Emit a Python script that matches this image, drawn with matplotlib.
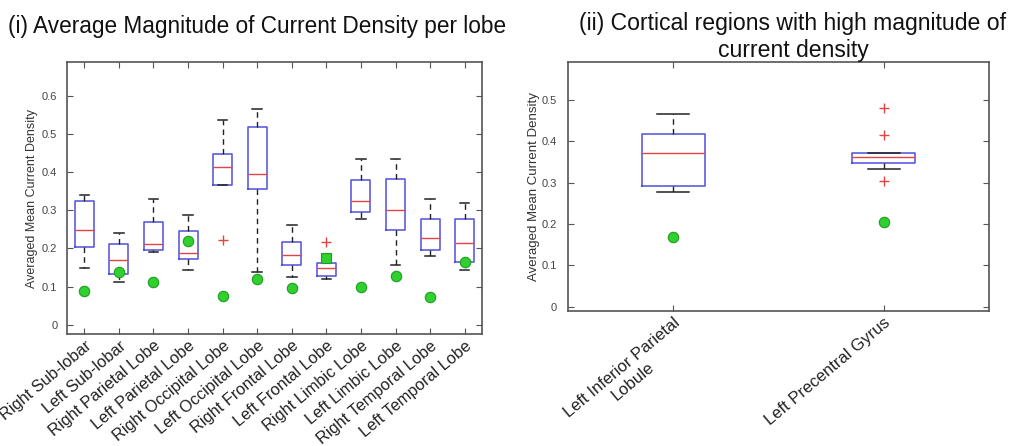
import matplotlib
matplotlib.use("Agg")
import matplotlib.pyplot as plt

plt.rcParams['font.family'] = ['Liberation Sans', 'DejaVu Sans']

# ---------------- data: panel (i) ----------------
lobes = ["Right Sub-lobar", "Left Sub-lobar", "Right Parietal Lobe", "Left Parietal Lobe",
         "Right Occipital Lobe", "Left Occipital Lobe", "Right Frontal Lobe", "Left Frontal Lobe",
         "Right Limbic Lobe", "Left Limbic Lobe", "Right Temporal Lobe", "Left Temporal Lobe"]
lobe_whislo = [0.150, 0.113, 0.191, 0.143, 0.367, 0.138, 0.125, 0.119, 0.277, 0.157, 0.180, 0.143]
lobe_q1     = [0.203, 0.134, 0.195, 0.173, 0.367, 0.355, 0.157, 0.128, 0.296, 0.247, 0.197, 0.165]
lobe_med    = [0.247, 0.169, 0.212, 0.187, 0.413, 0.396, 0.184, 0.150, 0.325, 0.300, 0.228, 0.215]
lobe_q3     = [0.325, 0.212, 0.270, 0.245, 0.448, 0.517, 0.217, 0.163, 0.378, 0.383, 0.277, 0.277]
lobe_whishi = [0.341, 0.241, 0.330, 0.287, 0.537, 0.565, 0.261, 0.175, 0.434, 0.434, 0.330, 0.319]
lobe_fliers = [[], [], [], [], [0.222], [], [], [0.217], [], [], [], []]
lobe_green  = [0.089, 0.137, 0.113, 0.219, 0.076, 0.119, 0.097, 0.174, 0.099, 0.128, 0.074, 0.165]

# ---------------- data: panel (ii) ----------------
regions = ["Left Inferior Parietal\nLobule", "Left Precentral Gyrus"]
reg_whislo = [0.277, 0.332]
reg_q1     = [0.293, 0.347]
reg_med    = [0.371, 0.361]
reg_q3     = [0.418, 0.371]
reg_whishi = [0.466, 0.371]
reg_fliers = [[], [0.481, 0.415, 0.305]]
reg_green  = [0.169, 0.206]

# ---------------- styles ----------------
BOX_C = '#4f4fdc'
MED_C = '#e04444'
WHISK_C = '#222222'
GREEN_F = '#2fd02f'
GREEN_E = '#1e9e1e'
SPINE_C = '#555555'
TICK_C = '#444444'
square_idx = 7  # green marker drawn as square in the reference

fig = plt.figure(figsize=(10.16, 4.46), dpi=100)
W, H = 1016, 446


def add_ax(x0, x1, y0, y1):
    return fig.add_axes([x0 / W, 1 - y1 / H, (x1 - x0) / W, (y1 - y0) / H])


def draw(ax, labels, lo, q1, med, q3, hi, fl, green, width, tick_fs, ylab_fs, xfs, ypad):
    stats = []
    for i in range(len(labels)):
        stats.append(dict(med=med[i], q1=q1[i], q3=q3[i], whislo=lo[i], whishi=hi[i],
                          fliers=fl[i], label=labels[i]))
    pos = list(range(1, len(labels) + 1))
    ax.bxp(stats, positions=pos, widths=width, showfliers=True,
           boxprops=dict(color=BOX_C, lw=1.1),
           medianprops=dict(color=MED_C, lw=1.0),
           whiskerprops=dict(color=WHISK_C, lw=1.0, linestyle=(0, (4, 3))),
           capprops=dict(color=WHISK_C, lw=1.1),
           flierprops=dict(marker='+', markeredgecolor=MED_C, markersize=7, mew=1.0))
    ax.set_xlim(0.5, len(labels) + 0.5)
    ax.set_xticks(pos)
    ax.set_xticklabels(labels, rotation=40, ha='right', rotation_mode='anchor',
                       fontsize=xfs, color='#222222', multialignment='center')
    ax.tick_params(direction='in', top=True, right=True, length=4, color=SPINE_C,
                   labelsize=tick_fs, labelcolor=TICK_C)
    ax.tick_params(axis='y', pad=ypad)
    ax.tick_params(axis='x', labelcolor='#222222', labelsize=xfs, pad=3)
    for s in ax.spines.values():
        s.set_color(SPINE_C)
        s.set_linewidth(1.2)
    ax.set_ylabel('Averaged Mean Current Density', fontsize=ylab_fs, color='#333333')
    return pos


# panel (i)
ax1 = add_ax(67, 482, 62, 334)
pos1 = draw(ax1, lobes, lobe_whislo, lobe_q1, lobe_med, lobe_q3, lobe_whishi, lobe_fliers,
            lobe_green, 0.55, 8, 9, 11.8, 7)
for i, (p, g) in enumerate(zip(pos1, lobe_green)):
    ax1.plot(p, g, marker='s' if i == square_idx else 'o', ms=7.5, color=GREEN_F,
             mec=GREEN_E, mew=0.8, zorder=4)
ax1.set_ylim(-0.024, 0.688)
ax1.set_yticks([0, 0.1, 0.2, 0.3, 0.4, 0.5, 0.6])
ax1.set_yticklabels(['0', '0.1', '0.2', '0.3', '0.4', '0.5', '0.6'])
ax1.yaxis.set_label_coords(-0.07, 0.5)

# panel (ii)
ax2 = add_ax(568, 989, 62, 311)
pos2 = draw(ax2, regions, reg_whislo, reg_q1, reg_med, reg_q3, reg_whishi, reg_fliers,
            reg_green, 0.3, 8, 9.5, 12, 8)
ax2.plot(pos2, reg_green, 'o', ms=7.5, color=GREEN_F, mec=GREEN_E, mew=0.8, zorder=4)
ax2.set_ylim(-0.0105, 0.592)
ax2.set_yticks([0, 0.1, 0.2, 0.3, 0.4, 0.5])
ax2.set_yticklabels(['0', '0.1', '0.2', '0.3', '0.4', '0.5'])
ax2.yaxis.set_label_coords(-0.067, 0.5)

# titles
fig.text(8 / W, 1 - 33 / H, '(i) Average Magnitude of Current Density per lobe',
         fontsize=16.3, ha='left', va='baseline', color='#111111')
fig.text(793 / W, 1 - 12 / H, '(ii) Cortical regions with high magnitude of\ncurrent density',
         fontsize=16.6, ha='center', va='top', color='#111111', linespacing=1.25)

fig.savefig('out.png', dpi=100)
